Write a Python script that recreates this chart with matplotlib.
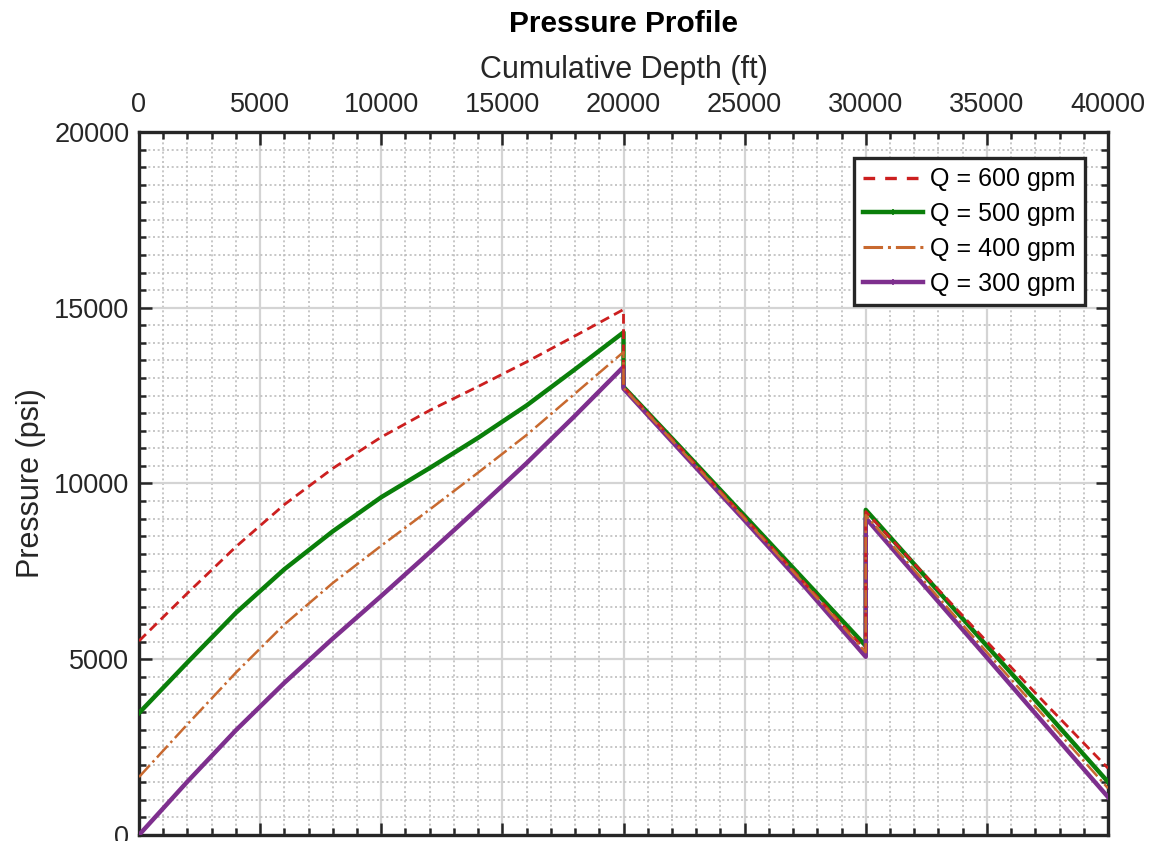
import matplotlib
matplotlib.use("Agg")
import matplotlib.pyplot as plt
from matplotlib.lines import Line2D
from matplotlib.ticker import MultipleLocator

plt.rcParams['font.family'] = ['Liberation Sans', 'DejaVu Sans']

# ---- data ----
depth_ft = [0, 2000, 4000, 6000, 8000, 10000, 12000, 14000, 16000, 18000, 20000,
            20000, 22500, 25000, 27500, 30000,
            30000, 32500, 35000, 37500, 40000]

p_600 = [5520, 6880, 8200, 9400, 10430, 11320, 12080, 12760, 13460, 14200, 14950,
         12750, 10900, 9030, 7150, 5250,
         9200, 7350, 5500, 3680, 1900]
p_500 = [3470, 4910, 6320, 7560, 8640, 9610, 10440, 11300, 12220, 13250, 14300,
         12750, 10920, 9080, 7230, 5380,
         9250, 7320, 5380, 3450, 1510]
p_400 = [1650, 3150, 4620, 5990, 7170, 8230, 9260, 10310, 11380, 12560, 13740,
         12720, 10860, 9000, 7120, 5200,
         9100, 7150, 5200, 3270, 1330]
p_300 = [0, 1520, 2980, 4330, 5590, 6800, 8040, 9300, 10580, 11930, 13320,
         12700, 10820, 8950, 7050, 5070,
         9020, 7030, 5050, 3060, 1080]

labels = ["Q = 600 gpm", "Q = 500 gpm", "Q = 400 gpm", "Q = 300 gpm"]
x_ticks = [0, 5000, 10000, 15000, 20000, 25000, 30000, 35000, 40000]
y_ticks = [0, 5000, 10000, 15000, 20000]

c_red = "#CC1F1F"
c_green = "#0A7F0A"
c_orange = "#C8692F"
c_purple = "#7E2F8E"
c_axis = "#262626"

fig = plt.figure(figsize=(11.54, 8.41), dpi=100)
ax = fig.add_axes([139/1154, 6/841, (1108-139)/1154, (835-132)/841])

ax.plot(depth_ft, p_600, color=c_red, lw=2.0, dashes=(3.5, 2.0), zorder=4)
ax.plot(depth_ft, p_500, color=c_green, lw=3.2, zorder=3)
ax.plot(depth_ft, p_400, color=c_orange, lw=1.8, ls='-.', zorder=4)
ax.plot(depth_ft, p_300, color=c_purple, lw=3.2, zorder=3)

ax.set_xlim(0, 40000)
ax.set_ylim(0, 20000)
ax.set_xticks(x_ticks)
ax.set_yticks(y_ticks)
ax.xaxis.set_minor_locator(MultipleLocator(1000))
ax.yaxis.set_minor_locator(MultipleLocator(500))

ax.xaxis.tick_top()
ax.xaxis.set_label_position('top')
ax.tick_params(which='both', direction='in', top=True, bottom=True, left=True, right=True,
               labelbottom=False, labeltop=True, labelsize=19.5, colors=c_axis, width=1.8)
ax.tick_params(which='major', length=9)
ax.tick_params(which='minor', length=5)
ax.tick_params(axis='x', which='major', pad=10)
ax.tick_params(axis='y', which='major', pad=7)

ax.grid(which='major', color='#d4d4d4', lw=1.6, ls='-')
ax.grid(which='minor', color='#bdbdbd', lw=1.2, ls=(0, (1.2, 1.6)))
ax.set_axisbelow(True)

for s in ax.spines.values():
    s.set_linewidth(2.4)
    s.set_color(c_axis)

ax.set_xlabel("Cumulative Depth (ft)", fontsize=22, color=c_axis)
ax.xaxis.set_label_coords(0.5, 1 + (132 - 78) / 703)
ax.set_ylabel("Pressure (psi)", fontsize=22, color=c_axis, labelpad=6)
ax.set_title("Pressure Profile", fontsize=21.5, fontweight='bold', y=1 + (132 - 32) / 703, pad=0)

handles = [
    Line2D([], [], color=c_red, lw=2.4, dashes=(3.5, 3.0)),
    Line2D([], [], color=c_green, lw=3.2, marker='|', markersize=4, markeredgewidth=1.2),
    Line2D([], [], color=c_orange, lw=2.2, ls='-.'),
    Line2D([], [], color=c_purple, lw=3.2, marker='|', markersize=4, markeredgewidth=1.2),
]
leg = ax.legend(handles, labels, loc='upper right',
                bbox_to_anchor=((1085 - 139) / 969, 1 - 26 / 703),
                fontsize=18, frameon=True, fancybox=False, framealpha=1,
                edgecolor=c_axis, handlelength=2.4, handletextpad=0.28,
                labelspacing=0.43, borderpad=0.38, borderaxespad=0.0)
leg.get_frame().set_linewidth(2.4)

fig.savefig("out.png", dpi=100)
